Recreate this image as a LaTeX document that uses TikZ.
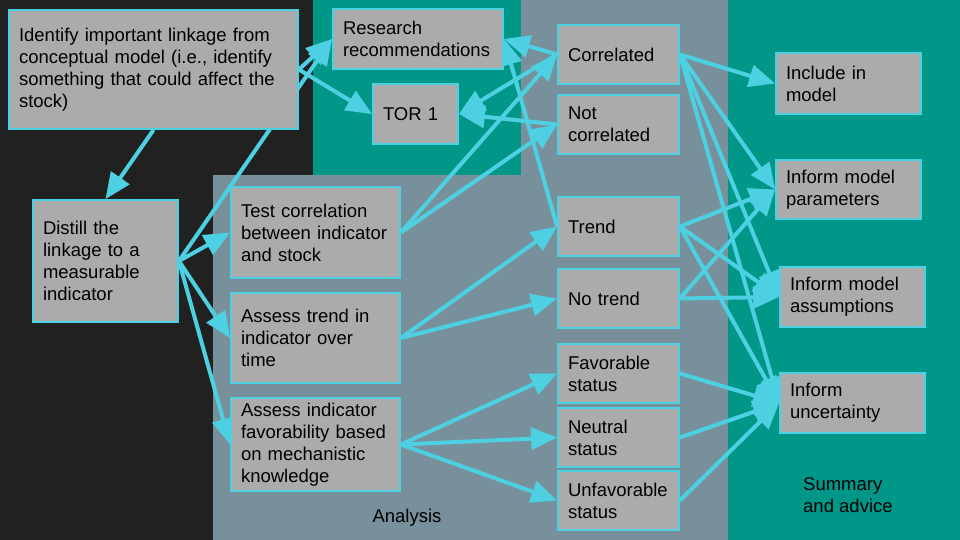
\documentclass[tikz,border=0pt]{standalone}
\usepackage{fontspec}
\setmainfont{Liberation Sans}
\usetikzlibrary{arrows.meta}
\pgfdeclarelayer{bgl}
\pgfdeclarelayer{edgel}
\pgfsetlayers{bgl,edgel,main}
\definecolor{darkbg}{HTML}{212121}
\definecolor{tealbg}{HTML}{009688}
\definecolor{graybg}{HTML}{78909C}
\definecolor{boxfill}{HTML}{ABABAB}
\definecolor{cyanline}{HTML}{4DD0E1}
\tikzset{
  box/.style={draw=cyanline, line width=1.8pt, fill=boxfill, inner xsep=10pt, inner ysep=0pt,
    align=left, anchor=center, font=\fontsize{18.5}{22}\selectfont, text=black},
  arr/.style={draw=cyanline, line width=4pt, -{Triangle[length=26pt,width=22pt]}},
  lbl/.style={font=\fontsize{18.5}{22}\selectfont, text=black, inner sep=0pt, align=left}
}
\begin{document}
\begin{tikzpicture}[x=1pt,y=-1pt]
\useasboundingbox (0,0) rectangle (960,540);
\begin{pgfonlayer}{bgl}
  \fill[darkbg] (0,0) rectangle (960,540);
  \fill[tealbg] (313,0) rectangle (521,175);
  \fill[graybg] (213,175) rectangle (728,540);
  \fill[graybg] (521,0) rectangle (728,175);
  \fill[tealbg] (728,0) rectangle (960,540);
\end{pgfonlayer}

% nodes
\node[box, minimum width=289pt, minimum height=119pt, text width=269pt] (ident) at (153.5,69.5)
  {Identify important linkage from\\conceptual model (i.e., identify\\something that could affect the\\stock)};
\node[box, minimum width=145pt, minimum height=122pt, text width=125pt] (distill) at (105.5,261)
  {Distill the\\linkage to a\\measurable\\indicator};
\node[box, minimum width=170pt, minimum height=60pt, text width=150pt] (research) at (418,39)
  {Research\\recommendations};
\node[box, minimum width=85pt, minimum height=60pt, text width=65pt] (tor) at (415.5,114) {TOR 1};
\node[box, minimum width=169pt, minimum height=91pt, text width=149pt] (test) at (315.5,232.5)
  {Test correlation\\between indicator\\and stock};
\node[box, minimum width=169pt, minimum height=90pt, text width=149pt] (atrend) at (315.5,338)
  {Assess trend in\\indicator over\\time};
\node[box, minimum width=169pt, minimum height=93pt, text width=149pt] (afav) at (315.5,444.5)
  {Assess indicator\\favorability based\\on mechanistic\\knowledge};
\node[box, minimum width=121pt, minimum height=59pt, text width=101pt] (corr) at (618.5,54.5) {Correlated};
\node[box, minimum width=121pt, minimum height=59pt, text width=101pt] (ncorr) at (618.5,124.5) {Not\\correlated};
\node[box, minimum width=121pt, minimum height=59pt, text width=101pt] (trend) at (618.5,226.5) {Trend};
\node[box, minimum width=121pt, minimum height=59pt, text width=101pt] (ntrend) at (618.5,298.5) {No trend};
\node[box, minimum width=121pt, minimum height=59pt, text width=101pt] (fav) at (618.5,373.5) {Favorable\\status};
\node[box, minimum width=121pt, minimum height=59pt, text width=101pt] (neut) at (618.5,437.5) {Neutral\\status};
\node[box, minimum width=121pt, minimum height=59pt, text width=101pt] (unfav) at (618.5,500.5) {Unfavorable\\status};
\node[box, minimum width=145pt, minimum height=61pt, text width=125pt] (incl) at (848.5,83.5) {Include in\\model};
\node[box, minimum width=145pt, minimum height=59pt, text width=125pt] (param) at (848.5,189.5) {Inform model\\parameters};
\node[box, minimum width=145pt, minimum height=60pt, text width=125pt] (assum) at (852.5,297) {Inform model\\assumptions};
\node[box, minimum width=145pt, minimum height=60pt, text width=125pt] (unc) at (852.5,403) {Inform\\uncertainty};

\node[lbl, anchor=center] (analysis) at (407,518) {Analysis};
\node[lbl, anchor=west] (summary) at (803,495.5) {Summary\\and advice};

% edges
\begin{pgfonlayer}{edgel}
  \draw[arr] (ident.south) -- (distill.north);
  \draw[arr] (ident.east) -- (research.west);
  \draw[arr] (ident.east) -- (tor.west);
  \draw[arr] (distill.east) -- (research.west);
  \draw[arr] (distill.east) -- (test.west);
  \draw[arr] (distill.east) -- (atrend.west);
  \draw[arr] (distill.east) -- (afav.west);
  \draw[arr] (test.east) -- (corr.west);
  \draw[arr] (test.east) -- (ncorr.west);
  \draw[arr] (atrend.east) -- (trend.west);
  \draw[arr] (atrend.east) -- (ntrend.west);
  \draw[arr] (afav.east) -- (fav.west);
  \draw[arr] (afav.east) -- (neut.west);
  \draw[arr] (afav.east) -- (unfav.west);
  \draw[arr] (corr.west) -- (research.east);
  \draw[arr] (corr.west) -- (tor.east);
  \draw[arr] (ncorr.west) -- (tor.east);
  \draw[arr] (trend.west) -- (research.east);
  \draw[arr] (corr.east) -- (incl.west);
  \draw[arr] (corr.east) -- (param.west);
  \draw[arr] (corr.east) -- (assum.west);
  \draw[arr] (corr.east) -- (unc.west);
  \draw[arr] (trend.east) -- (param.west);
  \draw[arr] (trend.east) -- (assum.west);
  \draw[arr] (trend.east) -- (unc.west);
  \draw[arr] (ntrend.east) -- (param.west);
  \draw[arr] (ntrend.east) -- (assum.west);
  \draw[arr] (fav.east) -- (unc.west);
  \draw[arr] (neut.east) -- (unc.west);
  \draw[arr] (unfav.east) -- (unc.west);
\end{pgfonlayer}
\end{tikzpicture}
\end{document}
